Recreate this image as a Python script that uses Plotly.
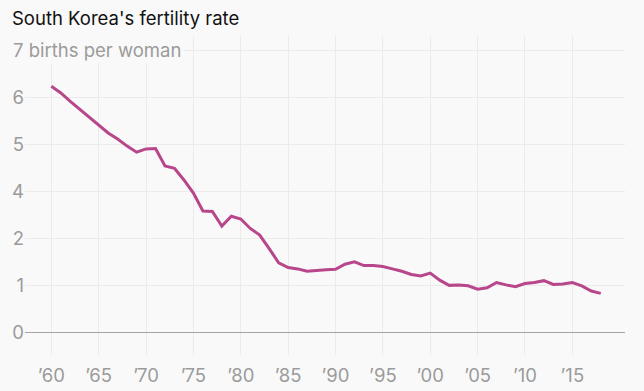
import plotly.graph_objects as go

years = list(range(1960, 2019))
fertility = [5.23, 5.09, 4.91, 4.74, 4.57, 4.40, 4.24, 4.11, 3.96, 3.83,
             3.90, 3.91, 3.54, 3.49, 3.24, 2.96, 2.58, 2.57, 2.26, 2.47,
             2.41, 2.21, 2.07, 1.78, 1.48, 1.38, 1.35, 1.30, 1.32, 1.33,
             1.34, 1.45, 1.50, 1.42, 1.42, 1.40, 1.35, 1.30, 1.23, 1.20,
             1.26, 1.11, 1.00, 1.01, 0.99, 0.92, 0.95, 1.06, 1.01, 0.97,
             1.04, 1.06, 1.10, 1.02, 1.03, 1.06, 0.99, 0.88, 0.83]

x_tick_vals = list(range(1960, 2016, 5))
x_tick_text = ["’60", "’65", "’70", "’75", "’80", "’85", "’90", "’95", "’00", "’05", "’10", "’15"]
y_tick_vals = [0, 1, 2, 3, 4, 5]
y_tick_text = ["0", "1", "2", "4", "5", "6"]
y_top_label = "7 births per woman"
title_text = "South Korea's fertility rate"

BG = "#f9f9f9"
GRID = "#ebebeb"
TICK = "#9b9b9b"
FONT = "Inter"
FS = 18.5

fig = go.Figure()
fig.add_trace(go.Scatter(x=years, y=fertility, mode="lines",
                         line=dict(color="#b8468b", width=3),
                         hoverinfo="skip"))

fig.update_layout(
    width=644, height=391,
    paper_bgcolor=BG, plot_bgcolor=BG,
    margin=dict(l=25, r=19, t=36, b=36, autoexpand=False),
    showlegend=False,
    font=dict(family=FONT, size=FS, color=TICK),
    xaxis=dict(range=[1957.22, 2020.56], tickmode="array",
               tickvals=x_tick_vals, ticktext=x_tick_text,
               showgrid=True, gridcolor=GRID, gridwidth=1,
               zeroline=False, showline=False, automargin=False,
               ticks="", ticklabelstandoff=7,
               tickfont=dict(family=FONT, size=FS, color=TICK)),
    yaxis=dict(range=[-0.48, 6.30], tickmode="array",
               tickvals=y_tick_vals + [6], ticktext=y_tick_text + [""],
               showgrid=True, gridcolor=GRID, gridwidth=1,
               zeroline=True, zerolinecolor="#a3a3a3", zerolinewidth=1,
               showline=False, ticks="", automargin=False,
               tickfont=dict(family=FONT, size=FS, color=TICK)),
)

fig.add_annotation(text=title_text, xref="paper", x=-15/600, xanchor="left",
                   yref="paper", y=1 + 18/319, yanchor="middle", showarrow=False,
                   font=dict(family=FONT, size=FS, color="#111111"))

fig.add_annotation(text=y_top_label, xref="paper", x=-15/600, xanchor="left",
                   yref="y", y=6, yanchor="middle", showarrow=False,
                   bgcolor=BG, borderpad=2,
                   font=dict(family=FONT, size=FS, color=TICK))

fig.write_html("out.html", config={"displayModeBar": False},
               post_script="document.body.style.margin='0';document.body.style.background='#f9f9f9';")
